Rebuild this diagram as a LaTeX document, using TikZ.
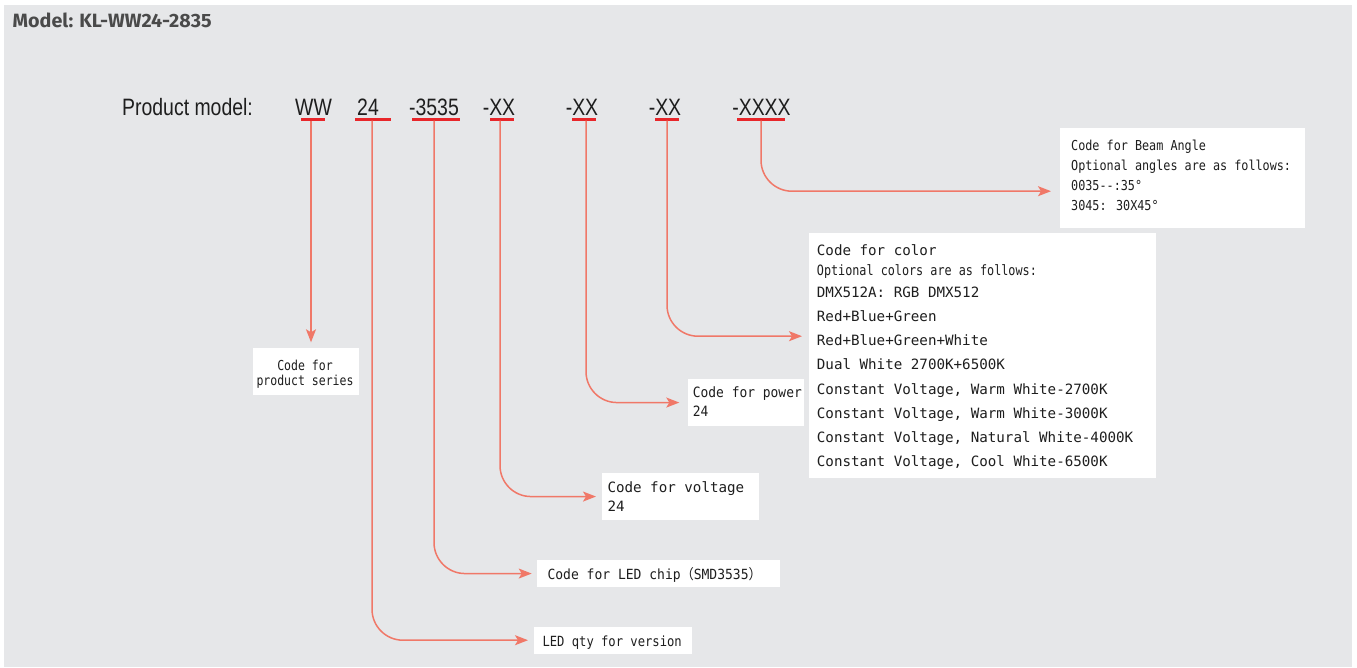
\documentclass[tikz,border=0pt]{standalone}
\usepackage{fontspec}
\usepackage{graphicx}
\usetikzlibrary{arrows.meta}
\newfontfamily\monof{DejaVu Sans Mono}
\newfontfamily\cjkf{Noto Sans CJK SC}
\newfontfamily\armf{Liberation Sans}
\newfontfamily\titlef{Fira Sans}
\definecolor{bg}{RGB}{230,231,233}
\definecolor{conncol}{RGB}{240,120,104}
\definecolor{ulred}{RGB}{232,38,42}
\definecolor{titlecol}{RGB}{74,74,74}
\definecolor{txtcol}{RGB}{30,30,30}
\begin{document}
\begin{tikzpicture}[x=1pt,y=-1pt,
  conn/.style={draw=conncol, line width=1.5pt, rounded corners=31pt,
    -{Stealth[length=13pt,width=10pt,inset=3pt]}},
  ul/.style={draw=ulred, line width=3pt},
  box/.style={fill=white, draw=none, inner sep=0pt, anchor=north west},
  code/.style={inner sep=0pt, anchor=base, text=txtcol, font=\armf\fontsize{23.7}{28}\selectfont},
  lbl/.style={inner sep=0pt, anchor=base west, text=txtcol}]
\useasboundingbox (0,0) rectangle (1357,667);
\fill[white] (0,0) rectangle (1357,667);
\fill[bg] (4,5) rectangle (1352,667);

% title
\node[inner sep=0pt, anchor=base west, text=titlecol] (title) at (12.5,27.3)
  {\resizebox{199pt}{14.6pt}{\titlef\bfseries Model: KL-WW24-2835}};

% product model line
\node[code, anchor=base west] (pm) at (122,115) {\scalebox{0.82}[1]{Product model:}};
\node[code] (c1) at (313.5,115) {\scalebox{0.82}[1]{WW}};
\node[code] (c2) at (368,115) {\scalebox{0.82}[1]{24}};
\node[code] (c3) at (434,115) {\scalebox{0.82}[1]{-3535}};
\node[code] (c4) at (499,115) {\scalebox{0.82}[1]{-XX}};
\node[code] (c5) at (582,115) {\scalebox{0.82}[1]{-XX}};
\node[code] (c6) at (665,115) {\scalebox{0.82}[1]{-XX}};
\node[code] (c7) at (761.5,115) {\scalebox{0.82}[1]{-XXXX}};

% underlines
\draw[ul] (301,119) -- (325,119);
\draw[ul] (355,119) -- (391,119);
\draw[ul] (412,119) -- (460,119);
\draw[ul] (490,119) -- (514,119);
\draw[ul] (572,119) -- (596,119);
\draw[ul] (655,119) -- (679,119);
\draw[ul] (737,119) -- (785,119);

\coordinate (u1) at (311,120.5);
\coordinate (u2) at (372,120.5);
\coordinate (u3) at (434,120.5);
\coordinate (u4) at (500,120.5);
\coordinate (u5) at (586,120.5);
\coordinate (u6) at (667,120.5);
\coordinate (u7) at (761,120.5);

% boxes
\node[box, minimum width=105.6pt, minimum height=47.7pt] (series) at (252.7,347.3) {};
\node[box, minimum width=157.7pt, minimum height=26.6pt] (qty) at (534,626.7) {};
\node[box, minimum width=243.3pt, minimum height=26.7pt] (chip) at (536.7,560) {};
\node[box, minimum width=157.3pt, minimum height=47.3pt] (volt) at (601.7,472.7) {};
\node[box, minimum width=116.3pt, minimum height=46.7pt] (power) at (687.7,379) {};
\node[box, minimum width=347.7pt, minimum height=245pt] (color) at (808.3,233) {};
\node[box, minimum width=245.7pt, minimum height=100pt] (beam) at (1059.3,127.3) {};

% texts
\node[lbl, anchor=base, font=\monof\fontsize{13.7}{15.7}\selectfont] (seriestxt) at (305,370)
  {\scalebox{0.84}[1]{\begin{tabular}[t]{@{}c@{}}Code for\\product series\end{tabular}}};
\node[lbl, font=\monof\fontsize{14}{15}\selectfont] (qtytxt) at (542.3,646.7)
  {\scalebox{0.87}[1]{LED qty for version}};
\node[lbl, font=\monof\fontsize{14}{15}\selectfont] (chiptxt) at (547.3,579)
  {\scalebox{0.93}[1]{Code for LED chip{\cjkf （}SMD3535{\cjkf ）}}};
\node[lbl, font=\monof\fontsize{14.2}{19.4}\selectfont] (volttxt) at (607.3,492.3)
  {\begin{tabular}[t]{@{}l@{}}Code for voltage\\24\end{tabular}};
\node[lbl, font=\monof\fontsize{14.2}{19.4}\selectfont] (powertxt) at (692.7,397.3)
  {\scalebox{0.91}[1]{\begin{tabular}[t]{@{}l@{}}Code for power\\24\end{tabular}}};
\node[lbl, font=\monof\fontsize{14.2}{24}\selectfont] (colortxt) at (816.7,255)
  {\begin{tabular}[t]{@{}l@{}}
  Code for color\\[-3.3pt]
  \scalebox{0.83}[1]{Optional colors are as follows:}\\[-2pt]
  DMX512A: RGB DMX512\\[-0.7pt]
  Red+Blue+Green\\
  Red+Blue+Green+White\\
  Dual White 2700K+6500K\\[1pt]
  Constant Voltage, Warm White-2700K\\[0.3pt]
  Constant Voltage, Warm White-3000K\\
  Constant Voltage, Natural White-4000K\\[-0.3pt]
  Constant Voltage, Cool White-6500K
  \end{tabular}};
\node[lbl, font=\monof\fontsize{13.7}{20}\selectfont] (beamtxt) at (1071,150)
  {\scalebox{0.86}[1]{\begin{tabular}[t]{@{}l@{}}Code for Beam Angle\\Optional angles are as follows:\\0035-{}-:35°\\3045: 30X45°\end{tabular}}};

% connectors
\draw[conn, shorten >=5pt] (u1) -- (u1 |- series.north);
\draw[conn, shorten >=6pt] (u2) |- (qty.west);
\draw[conn, shorten >=5pt] (u3) |- (chip.west);
\draw[conn, shorten >=5.7pt] (u4) |- (volt.west);
\draw[conn, shorten >=8.4pt] (u5) |- (power.west);
\draw[conn, shorten >=6.3pt] (u6) |- ([yshift=19.5pt]color.west);
\draw[conn, shorten >=8.3pt] (u7) |- ([yshift=-13.7pt]beam.west);
\end{tikzpicture}
\end{document}
